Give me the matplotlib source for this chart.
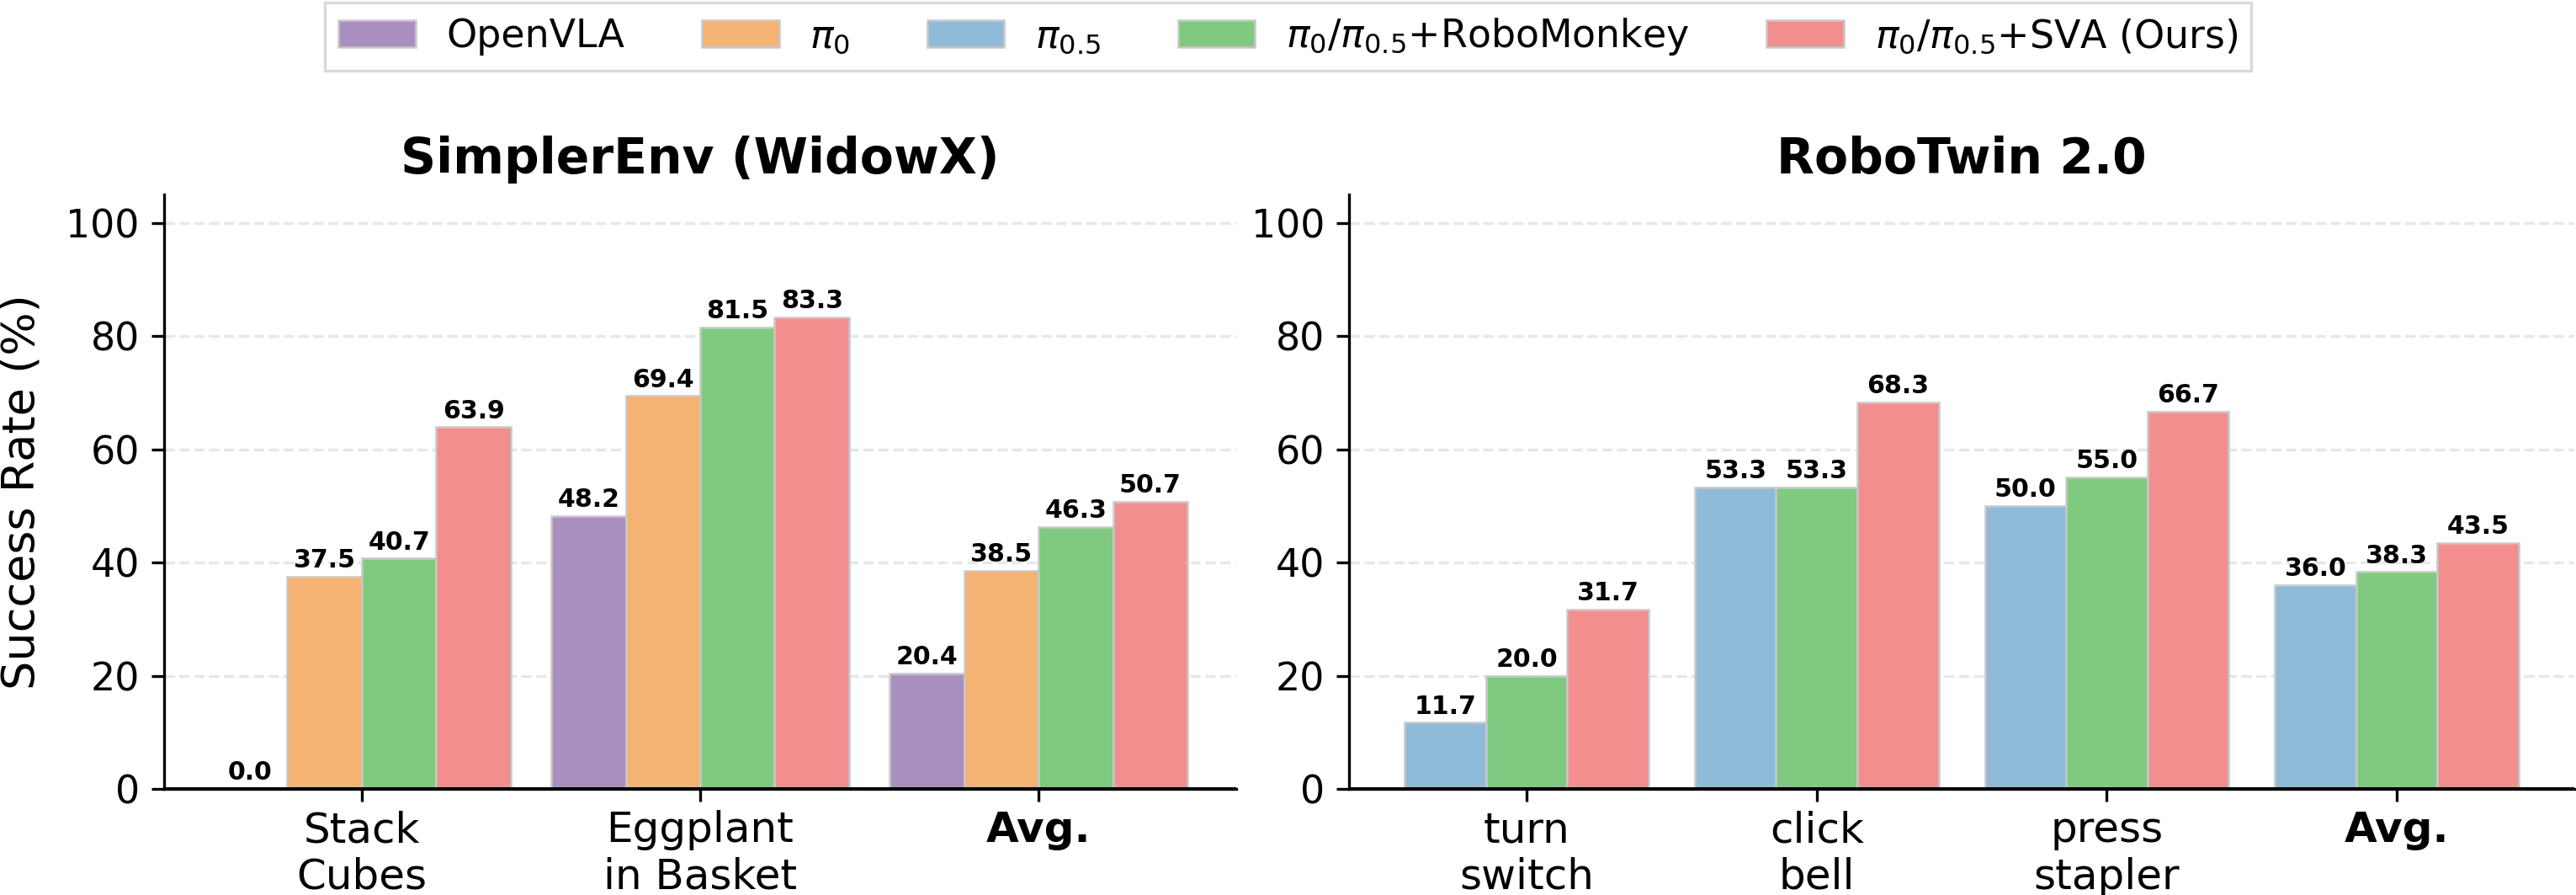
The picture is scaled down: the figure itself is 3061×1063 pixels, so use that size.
from __future__ import annotations

import matplotlib

matplotlib.use("Agg")
import matplotlib.pyplot as plt
import numpy as np
from matplotlib.patches import Patch


OUTPUT_PATH = "out.png"

# SimplerEnv (WidowX)
SIMPLER_TASKS = ["Stack\nCubes", "Eggplant\nin Basket", "Avg."]
SIMPLER_OPENVLA = [0.0, 48.2, 20.4]
SIMPLER_PI0 = [37.5, 69.4, 38.5]
SIMPLER_ROBOMONKEY = [40.7, 81.5, 46.3]
SIMPLER_SVA = [63.9, 83.3, 50.7]

# RoboTwin 2.0
ROBOTWIN_TASKS = ["turn\nswitch", "click\nbell", "press\nstapler", "Avg."]
ROBOTWIN_PI05 = [11.7, 53.3, 50.0, 36.0]
ROBOTWIN_ROBOMONKEY = [20.0, 53.3, 55.0, 38.3]
ROBOTWIN_SVA = [31.7, 68.3, 66.7, 43.5]

LABELS = {
    "openvla": "OpenVLA",
    "pi0": r"$\pi_0$",
    "pi05": r"$\pi_{0.5}$",
    "robomonkey": r"$\pi_0/\pi_{0.5}$+RoboMonkey",
    "sva": r"$\pi_0/\pi_{0.5}$+SVA (Ours)",
}

COLORS = {
    "openvla": "#a98fc0",
    "pi0": "#f5b373",
    "pi05": "#8fbbd9",
    "robomonkey": "#80c980",
    "sva": "#f28e8e",
}

EDGE = "#c8c8c8"


def draw_panel(ax, tasks, series, width, title, ylabel=None):
    x = np.arange(len(tasks))
    n = len(series)
    for i, (key, values) in enumerate(series):
        pos = x + (i - (n - 1) / 2) * width
        ax.bar(pos, values, width, color=COLORS[key], edgecolor=EDGE,
               linewidth=0.6, zorder=3)
        for px, v in zip(pos, values):
            ax.text(px, v + 0.7, f"{v:.1f}", ha="center", va="bottom",
                    fontsize=7.2, fontweight="bold", zorder=4)

    ax.set_ylim(0, 105)
    ax.set_yticks([0, 20, 40, 60, 80, 100])
    ax.tick_params(axis="y", labelsize=11)
    ax.tick_params(axis="x", pad=2.5)
    ax.set_xticks(x)
    ax.set_xticklabels(tasks, fontsize=12)
    for lbl in ax.get_xticklabels():
        if lbl.get_text() == "Avg.":
            lbl.set_fontweight("bold")

    ax.set_title(title, fontsize=14, fontweight="bold")
    if ylabel:
        ax.set_ylabel(ylabel, fontsize=13, labelpad=6.5)

    # light dashed guide lines, black baseline at zero
    ax.grid(axis="y", linestyle="--", linewidth=0.8, color="#b0b0b0",
            alpha=0.3, zorder=0)
    ax.axhline(0, color="black", linewidth=1.2, zorder=5)
    ax.spines["top"].set_visible(False)
    ax.spines["right"].set_visible(False)


def main() -> None:
    fig = plt.figure(figsize=(3061 / 300, 1063 / 300), dpi=300)
    ax_left = fig.add_axes([0.0637, 0.1185, 0.4162, 0.6642])
    ax_right = fig.add_axes([0.5237, 0.1185, 0.4757, 0.6642])

    draw_panel(
        ax_left,
        SIMPLER_TASKS,
        [
            ("openvla", SIMPLER_OPENVLA),
            ("pi0", SIMPLER_PI0),
            ("robomonkey", SIMPLER_ROBOMONKEY),
            ("sva", SIMPLER_SVA),
        ],
        0.22,
        "SimplerEnv (WidowX)",
        ylabel="Success Rate (%)",
    )
    draw_panel(
        ax_right,
        ROBOTWIN_TASKS,
        [
            ("pi05", ROBOTWIN_PI05),
            ("robomonkey", ROBOTWIN_ROBOMONKEY),
            ("sva", ROBOTWIN_SVA),
        ],
        0.28,
        "RoboTwin 2.0",
    )

    handles = [
        Patch(facecolor=COLORS[k], edgecolor=EDGE, linewidth=0.6, label=LABELS[k])
        for k in ["openvla", "pi0", "pi05", "robomonkey", "sva"]
    ]
    leg = fig.legend(
        handles=handles,
        loc="upper center",
        bbox_to_anchor=(0.5, 0.997),
        ncol=5,
        fontsize=11,
        frameon=True,
        fancybox=False,
        borderaxespad=0.0,
        borderpad=0.35,
    )
    leg.get_frame().set_edgecolor("#d0d0d0")
    leg.get_frame().set_linewidth(0.8)

    fig.savefig(OUTPUT_PATH, dpi=300)
    plt.close(fig)


if __name__ == "__main__":
    main()
